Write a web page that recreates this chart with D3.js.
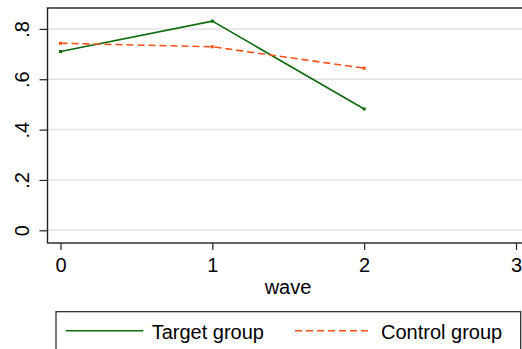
<!DOCTYPE html>
<html><head><meta charset="utf-8">
<script src="https://cdn.jsdelivr.net/npm/d3@7"></script>
<style>html,body{margin:0;padding:0;background:#fff;}svg{display:block;font-family:"Liberation Sans",Arial,sans-serif;}</style>
</head><body>
<script>
const waves = [0, 1, 2];
const targetValues = [0.710, 0.831, 0.482];
const controlValues = [0.743, 0.729, 0.644];
const xTicks = [0, 1, 2, 3];
const yTicks = [0, 0.2, 0.4, 0.6, 0.8];
const yTickLabels = ["0", ".2", ".4", ".6", ".8"];
const seriesNames = ["Target group", "Control group"];
const xTitle = "wave";

const W = 522, H = 349;
const svg = d3.select("body").append("svg").attr("width", W).attr("height", H);
svg.append("rect").attr("width", W).attr("height", H).attr("fill", "#fff");

const plot = {left: 47.5, top: 8, right: 540, bottom: 243};
const x = d3.scaleLinear().domain([0, 3]).range([60.5, 516]);
const y = d3.scaleLinear().domain([0, 0.8]).range([230.3, 28.9]);

// gridlines
svg.append("g").selectAll("line").data(yTicks).join("line")
  .attr("x1", plot.left).attr("x2", plot.right)
  .attr("y1", d => y(d)).attr("y2", d => y(d))
  .attr("stroke", "#e2e2e2").attr("stroke-width", 1.5);

// frame
svg.append("rect").attr("x", plot.left).attr("y", plot.top)
  .attr("width", plot.right - plot.left).attr("height", plot.bottom - plot.top)
  .attr("fill", "none").attr("stroke", "#222").attr("stroke-width", 1.4);

// y axis
const yAxis = d3.axisLeft(y).tickValues(yTicks).tickSize(8).tickFormat((d, i) => yTickLabels[i]);
const gy = svg.append("g").attr("transform", `translate(${plot.left},0)`).call(yAxis);
gy.select(".domain").remove();
gy.selectAll(".tick line").attr("stroke", "#222").attr("stroke-width", 1.2);
gy.selectAll(".tick text").attr("font-size", 20).attr("fill", "#000")
  .attr("text-anchor", "middle").attr("x", 0).attr("dy", 0)
  .attr("transform", "translate(-18.5,0) rotate(-90)");

// x axis
const xAxis = d3.axisBottom(x).tickValues(xTicks).tickSize(7).tickFormat(d3.format("d"));
const gx = svg.append("g").attr("transform", `translate(0,${plot.bottom})`).call(xAxis);
gx.select(".domain").remove();
gx.selectAll(".tick line").attr("stroke", "#222").attr("stroke-width", 1.2);
gx.selectAll(".tick text").attr("font-size", 20).attr("fill", "#000").attr("dy", 0).attr("y", 28.5);

svg.append("text").attr("x", 288).attr("y", 294.3).attr("text-anchor", "middle")
  .attr("font-size", 20).attr("fill", "#000").text(xTitle);

const green = "#0d6b0d", orange = "#ff4f14";
const line = d3.line().x((d, i) => x(waves[i])).y(d => y(d));

svg.append("path").datum(targetValues).attr("d", line)
  .attr("fill", "none").attr("stroke", green).attr("stroke-width", 1.6);
svg.append("path").datum(controlValues).attr("d", line)
  .attr("fill", "none").attr("stroke", orange).attr("stroke-width", 1.6)
  .attr("stroke-dasharray", "7,4");

svg.append("g").selectAll("rect").data(targetValues).join("rect")
  .attr("x", (d, i) => x(waves[i]) - 1.5).attr("y", d => y(d) - 1.5)
  .attr("width", 3).attr("height", 3).attr("fill", green);
svg.append("g").selectAll("rect").data(controlValues).join("rect")
  .attr("x", (d, i) => x(waves[i]) - 1.5).attr("y", d => y(d) - 1.5)
  .attr("width", 3).attr("height", 3).attr("fill", orange);

// legend
svg.append("rect").attr("x", 56).attr("y", 311.7).attr("width", 464.7).attr("height", 60)
  .attr("fill", "#fff").attr("stroke", "#222").attr("stroke-width", 1.2);
svg.append("line").attr("x1", 65.7).attr("x2", 143.3).attr("y1", 330.7).attr("y2", 330.7)
  .attr("stroke", green).attr("stroke-width", 1.6);
svg.append("text").attr("x", 151.7).attr("y", 339.3).attr("font-size", 20).attr("fill", "#000").text(seriesNames[0]);
svg.append("line").attr("x1", 295).attr("x2", 372).attr("y1", 330.7).attr("y2", 330.7)
  .attr("stroke", orange).attr("stroke-width", 1.6).attr("stroke-dasharray", "7,4");
svg.append("text").attr("x", 381).attr("y", 339.3).attr("font-size", 20).attr("fill", "#000").text(seriesNames[1]);
</script>
</body></html>
